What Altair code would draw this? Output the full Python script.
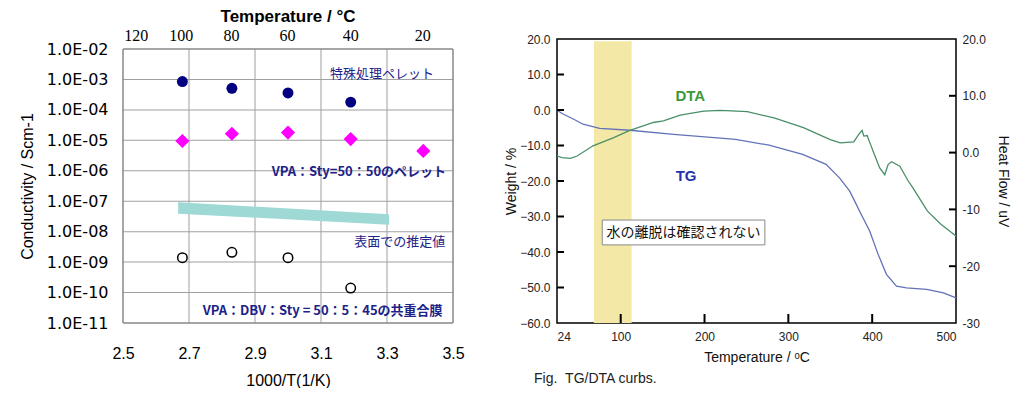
import altair as alt
import pandas as pd

# ---------------- Left panel data ----------------
inv_T_special = [2.68, 2.83, 3.00, 3.19]
cond_special = [8.5e-4, 5.1e-4, 3.6e-4, 1.8e-4]
inv_T_pellet = [2.68, 2.83, 3.00, 3.19, 3.41]
cond_pellet = [9.5e-6, 1.65e-5, 1.8e-5, 1.1e-5, 4.5e-6]
inv_T_film = [2.68, 2.83, 3.00, 3.19]
cond_film = [1.4e-9, 2.1e-9, 1.4e-9, 1.4e-10]
band_x = [2.667, 3.306]
band_hi = [9.3e-8, 3.7e-8]
band_lo = [3.9e-8, 1.7e-8]

x_ticks = [2.5, 2.7, 2.9, 3.1, 3.3, 3.5]
y_ticks = [1e-11, 1e-10, 1e-9, 1e-8, 1e-7, 1e-6, 1e-5, 1e-4, 1e-3, 1e-2]
y_tick_labels = ["1.0E-02", "1.0E-03", "1.0E-04", "1.0E-05", "1.0E-06",
                 "1.0E-07", "1.0E-08", "1.0E-09", "1.0E-10", "1.0E-11"]
top_temps = [120, 100, 80, 60, 40, 20]
top_labels = ["120", "100", "80", "60", "40", "20"]

notes_normal = ["特殊処理ペレット", "表面での推定値"]
notes_normal_x = [3.285, 3.339]
notes_normal_y = [1.5e-3, 4.7e-9]
notes_bold = ["VPA：Sty=50：50のペレット", "VPA：DBV：Sty = 50：5：45の共重合膜"]
notes_bold_x = [3.215, 3.105]
notes_bold_y = [9.1e-7, 2.4e-11]

# ---------------- Right panel data ----------------
tg_T = [24, 30, 44, 55, 75, 111, 163, 219, 237, 277, 317, 345, 361, 373, 379,
        385, 397, 407, 417, 429, 441, 465, 485, 500]
tg_W = [0.0, -1.0, -2.6, -4.0, -5.15, -5.7, -6.85, -7.9, -8.3, -9.9, -12.5,
        -15.3, -19.1, -22.8, -25.6, -28.5, -34.1, -40.6, -46.3, -49.6, -50.1,
        -50.5, -51.5, -52.9]
dta_T = [24, 30, 40, 48, 67, 91, 111, 139, 151, 171, 199, 219, 251, 283, 318,
         350, 362, 378, 384, 388, 390, 394, 398, 401, 405, 409, 415, 419, 423,
         433, 443, 449, 457, 466, 482, 500]
dta_HF = [-0.6, -0.9, -1.0, -0.6, 1.2, 2.6, 3.9, 5.3, 5.6, 6.6, 7.3, 7.45, 7.2,
          6.1, 4.4, 2.3, 1.7, 1.9, 3.2, 3.9, 2.9, 3.0, 1.45, 0.3, -1.2, -2.7,
          -3.9, -2.1, -1.6, -2.4, -5.0, -6.3, -8.2, -10.3, -12.6, -14.7]
band2_T = [68, 113]
band2_W = [19.4, -60]
box_T = [78, 272]
box_W = [-31, -38]
box_text = "水の離脱は確認されない"
box_text_T = 175
box_text_W = -34.6
curve_labels = ["DTA", "TG"]
curve_label_T = [183, 178]
curve_label_W = [3.9, -18.6]
curve_label_colors = ["#3a9a3a", "#2233aa"]
w_ticks = [20, 10, 0, -10, -20, -30, -40, -50, -60]
hf_ticks = [20, 10, 0, -10, -20, -30]
hf_tick_labels = ["20.0", "10.0", "0.0", "-10", "-20", "-30"]
x2_ticks = [24, 100, 200, 300, 400, 500]
caption = "Fig.\u00a0\u00a0TG/DTA curbs."

# ---------------- sizes ----------------
W1, H1 = 330, 284          # left group is 10 px taller than its frame (frame starts lower)
FRAME1 = 274
W2, H2 = 399, 284
NAVY = "#000080"
TXT = "#1c2288"
GRID = "#a0a0a0"

# ---------------- Left panel ----------------
y_top = 10 ** (-2 + 9 * (H1 - FRAME1) / FRAME1)
xscale = alt.Scale(domain=[x_ticks[0], x_ticks[-1]], nice=False, zero=False)
yscale = alt.Scale(type="log", domain=[y_ticks[0], y_top], nice=False)

x_axis = alt.Axis(values=x_ticks, format=".1f", grid=False, domain=False,
                  ticks=False, labelFlush=False, labelFontSize=16,
                  labelFont="Liberation Sans", labelColor="black", labelPadding=22,
                  title="1000/T(1/K)", titleFont="Liberation Sans", titleFontSize=16,
                  titleFontWeight="normal", titleColor="black", titlePadding=11)
lbl_js = "[" + ",".join("'%s'" % s for s in y_tick_labels) + "]"
y_axis = alt.Axis(values=y_ticks,
                  labelExpr=lbl_js + "[round(-log(datum.value)/LN10) - 2]",
                  grid=False, domain=False, ticks=False, labelFontSize=16,
                  labelFont="DejaVu Sans", labelColor="black", labelPadding=15,
                  title="Conductivity / Scm-1", titleFont="Liberation Sans",
                  titleFontSize=16, titleFontWeight="normal", titleColor="black",
                  titlePadding=11, titleY=(H1 + (H1 - FRAME1)) / 2)

X1 = lambda f: alt.X(f, scale=xscale, axis=x_axis)
Y1 = lambda f: alt.Y(f, scale=yscale, axis=y_axis)

# grid lines drawn as thin filled tick bars, one per inner tick value
grid_h = alt.Chart(pd.DataFrame({"gy": y_ticks[1:-1]})).mark_tick(
    orient="horizontal", size=W1, thickness=1, color=GRID, opacity=1).encode(
    y=Y1("gy:Q"), x=alt.value(W1 / 2),
)
grid_v = alt.Chart(pd.DataFrame({"gx": x_ticks[1:-1]})).mark_tick(
    orient="vertical", size=FRAME1, thickness=1, color=GRID, opacity=1).encode(
    x=X1("gx:Q"), y=alt.value(H1 - FRAME1 / 2),
)
# plot frame drawn as filled tick bars
frame_h = alt.Chart(pd.DataFrame({"fy": [y_ticks[0], y_ticks[-1]]})).mark_tick(
    orient="horizontal", size=W1, thickness=1.5, color="#888888", opacity=1).encode(
    y=Y1("fy:Q"), x=alt.value(W1 / 2),
)
frame_v = alt.Chart(pd.DataFrame({"fx": [x_ticks[0], x_ticks[-1]]})).mark_tick(
    orient="vertical", size=FRAME1, thickness=1.5, color="#888888", opacity=1).encode(
    x=X1("fx:Q"), y=alt.value(H1 - FRAME1 / 2),
)

band_df = pd.DataFrame({"x": band_x, "hi": band_hi, "lo": band_lo})
band = alt.Chart(band_df).mark_area(color="#9ed9d6", opacity=1).encode(
    x=X1("x:Q"), y=Y1("hi:Q"), y2="lo:Q",
)
sp_df = pd.DataFrame({"x": inv_T_special, "y": cond_special})
special = alt.Chart(sp_df).mark_point(shape="circle", filled=True, color=NAVY,
                                      size=120, opacity=1).encode(
    x=X1("x:Q"), y=Y1("y:Q"),
)
pe_df = pd.DataFrame({"x": inv_T_pellet, "y": cond_pellet})
pellet = alt.Chart(pe_df).mark_point(shape="diamond", filled=True, color="#ff00ff",
                                     size=200, opacity=1).encode(
    x=X1("x:Q"), y=Y1("y:Q"),
)
fi_df = pd.DataFrame({"x": inv_T_film, "y": cond_film})
film = alt.Chart(fi_df).mark_point(shape="circle", filled=False, color="black",
                                   size=90, strokeWidth=1.5, opacity=1).encode(
    x=X1("x:Q"), y=Y1("y:Q"),
)
nn_df = pd.DataFrame({"x": notes_normal_x, "y": notes_normal_y, "t": notes_normal})
notes_n = alt.Chart(nn_df).mark_text(font="Noto Sans CJK JP", fontSize=13,
                                     color=TXT, align="center").encode(
    x=X1("x:Q"), y=Y1("y:Q"), text="t:N",
)
nb_df = pd.DataFrame({"x": notes_bold_x, "y": notes_bold_y, "t": notes_bold})
notes_b = alt.Chart(nb_df).mark_text(font="Noto Sans CJK JP", fontSize=13,
                                     fontWeight="bold", color=TXT,
                                     align="center").encode(
    x=X1("x:Q"), y=Y1("y:Q"), text="t:N",
)
# secondary (top) temperature scale, labels placed at 1000/T positions
top_df = pd.DataFrame({"pos": [1000.0 / (t + 273.15) for t in top_temps],
                       "lab": top_labels})
top = alt.Chart(top_df).mark_text(font="Liberation Serif", fontSize=16,
                                  color="black", dx=-1, baseline="middle").encode(
    x=X1("pos:Q"), y=alt.value(-3), text="lab:N",
)

left = alt.layer(grid_h, grid_v, band, special, pellet, film, notes_n, notes_b,
                 top, frame_h, frame_v).properties(
    width=W1, height=H1,
    view=alt.ViewBackground(stroke="transparent", strokeWidth=0),
    title=alt.Title("Temperature / °C", font="Liberation Sans", fontSize=17,
                    fontWeight="bold", color="black", anchor="middle",
                    frame="group", offset=2),
)

# ---------------- Right panel ----------------
xs2 = alt.Scale(domain=[x2_ticks[0], x2_ticks[-1]], nice=False, zero=False)
yW = alt.Scale(domain=[w_ticks[-1], w_ticks[0]], nice=False, zero=False)
yHF = alt.Scale(domain=[hf_ticks[-1], hf_ticks[0]], nice=False, zero=False)

x2_axis = alt.Axis(values=x2_ticks, labelFlush=True, domain=False, ticks=False,
                   grid=False, labelFontSize=12, labelFont="Liberation Sans",
                   labelColor="#222222", labelPadding=8,
                   title="Temperature / ᵒC", titleFont="Liberation Sans",
                   titleFontSize=14, titleFontWeight="normal", titleColor="#111111",
                   titlePadding=8)
w_axis = alt.Axis(values=w_ticks, format=".1f", domain=False, ticks=False,
                  grid=False, labelFontSize=12, labelFont="Liberation Sans",
                  labelColor="#222222", labelPadding=7,
                  title="Weight / %", titleFont="Liberation Sans", titleFontSize=14,
                  titleFontWeight="normal", titleColor="#111111", titlePadding=1)
hf_js = "{" + ",".join("'%d':'%s'" % (v, s) for v, s in zip(hf_ticks, hf_tick_labels)) + "}"
hf_axis = alt.Axis(orient="right", values=hf_ticks,
                   labelExpr=hf_js + "['' + datum.value]",
                   domain=False, ticks=False, grid=False, labelFontSize=12,
                   labelFont="Liberation Sans", labelColor="#222222", labelPadding=6,
                   title="Heat Flow / uV", titleFont="Liberation Sans",
                   titleFontSize=14, titleFontWeight="normal", titleColor="#111111",
                   titlePadding=10)

X2 = lambda f: alt.X(f, scale=xs2, axis=x2_axis)
YW = lambda f: alt.Y(f, scale=yW, axis=w_axis)
YH = lambda f: alt.Y(f, scale=yHF, axis=hf_axis)

band2_df = pd.DataFrame({"a": [band2_T[0]], "b": [band2_T[1]],
                         "c": [band2_W[0]], "d": [band2_W[1]]})
band2 = alt.Chart(band2_df).mark_rect(color="#f4e8a6", opacity=1).encode(
    x=X2("a:Q"), x2="b:Q", y=YW("c:Q"), y2="d:Q",
)
tg_df = pd.DataFrame({"T": tg_T, "W": tg_W})
tg = alt.Chart(tg_df).mark_line(color="#6272b8", strokeWidth=1.3).encode(
    x=X2("T:Q"), y=YW("W:Q"),
)
# inward tick marks as filled tick bars
tickL = alt.Chart(pd.DataFrame({"W": w_ticks[1:-1]})).mark_tick(
    orient="horizontal", size=7, thickness=2, color="black", opacity=1).encode(
    y=YW("W:Q"), x=alt.value(3.5),
)
tickB = alt.Chart(pd.DataFrame({"T": x2_ticks[1:-1]})).mark_tick(
    orient="vertical", size=9, thickness=2, color="black", opacity=1).encode(
    x=X2("T:Q"), y=alt.value(H2 - 4.5),
)
box_df = pd.DataFrame({"a": [box_T[0]], "b": [box_T[1]], "c": [box_W[0]], "d": [box_W[1]]})
box = alt.Chart(box_df).mark_rect(fill="white", stroke="#888888", strokeWidth=1).encode(
    x=X2("a:Q"), x2="b:Q", y=YW("c:Q"), y2="d:Q",
)
bt_df = pd.DataFrame({"T": [box_text_T], "W": [box_text_W], "t": [box_text]})
boxtext = alt.Chart(bt_df).mark_text(font="Noto Sans CJK JP", fontSize=14,
                                     color="#111111").encode(
    x=X2("T:Q"), y=YW("W:Q"), text="t:N",
)
cl_df = pd.DataFrame({"T": curve_label_T, "W": curve_label_W, "t": curve_labels,
                      "c": curve_label_colors})
curvelbl = alt.Chart(cl_df).mark_text(font="Liberation Sans", fontSize=15,
                                      fontWeight="bold").encode(
    x=X2("T:Q"), y=YW("W:Q"), text="t:N",
    color=alt.Color("c:N", scale=None),
)

dta_df = pd.DataFrame({"T": dta_T, "HF": dta_HF})
dta = alt.Chart(dta_df).mark_line(color="#4a8f68", strokeWidth=1.3).encode(
    x=X2("T:Q"), y=YH("HF:Q"),
)
tickR = alt.Chart(pd.DataFrame({"HF": hf_ticks[1:-1]})).mark_tick(
    orient="horizontal", size=7, thickness=2, color="black", opacity=1).encode(
    y=YH("HF:Q"), x=alt.value(W2 - 3.5),
)

right_w = alt.layer(band2, tg, tickL, tickB, box, boxtext, curvelbl)
right_h = alt.layer(dta, tickR)
right = alt.layer(right_w, right_h).resolve_scale(y="independent").properties(
    width=W2, height=H2,
    view=alt.ViewBackground(stroke="black", strokeWidth=1.5),
    title=alt.Title(caption, orient="bottom", anchor="start",
                    frame="group", font="Liberation Sans", fontSize=14,
                    fontWeight="normal", color="#222222", dx=-23, offset=8),
)

chart = alt.hconcat(left, right, spacing=38).properties(
    padding={"left": 11, "top": 0, "right": 0, "bottom": 0}
)

chart.save("out.html", embed_options={"renderer": "svg", "actions": False})
